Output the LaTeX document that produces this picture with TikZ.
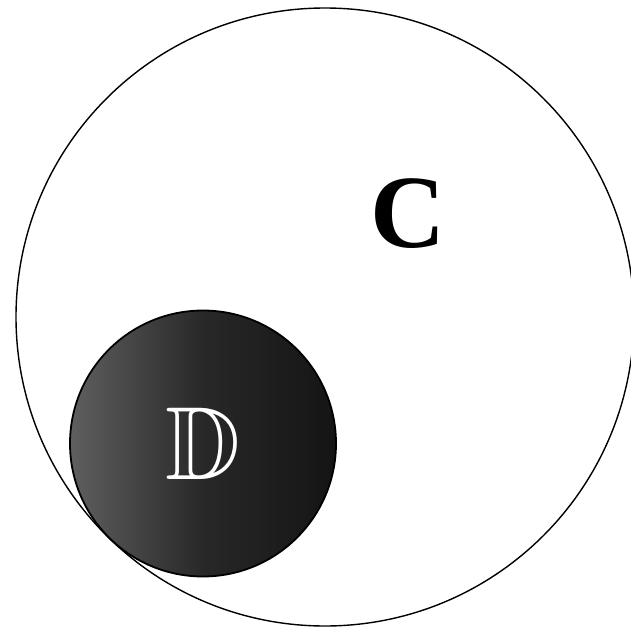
\documentclass[tikz,border=0pt]{standalone}
\usepackage{amsmath,amssymb}
\usepackage{fontspec}
\setmainfont{Liberation Serif}
\usepackage{xcolor}
\usepackage{tikz}
\usetikzlibrary{positioning}
\definecolor{discdark}{RGB}{40,40,40}
\definecolor{discmid}{RGB}{95,95,95}
\tikzset{
  bigdisc/.style   = {draw, circle, line width=1.4pt, minimum size=618pt, inner sep=0pt},
  smalldisc/.style = {draw, circle, line width=1.8pt, minimum size=266pt, inner sep=0pt,
                      left color=discmid, right color=black!92, middle color=discdark},
  setlabel/.style  = {inner sep=0pt, font=\fontsize{104}{104}\selectfont\bfseries},
}

\begin{document}
\begin{tikzpicture}[x=1pt, y=-1pt]
  \useasboundingbox[fill=white] (0,0) rectangle (631,632);
  \node[bigdisc] (setC) at (325,317) {};
  \node[smalldisc] (setD) at (203,443.5) {};
  \node[setlabel] (labC) at (408,214) {C};
  \node[setlabel, text=white] (labD) at (setD.center) {$\mathbb{D}$};
\end{tikzpicture}
\end{document}
